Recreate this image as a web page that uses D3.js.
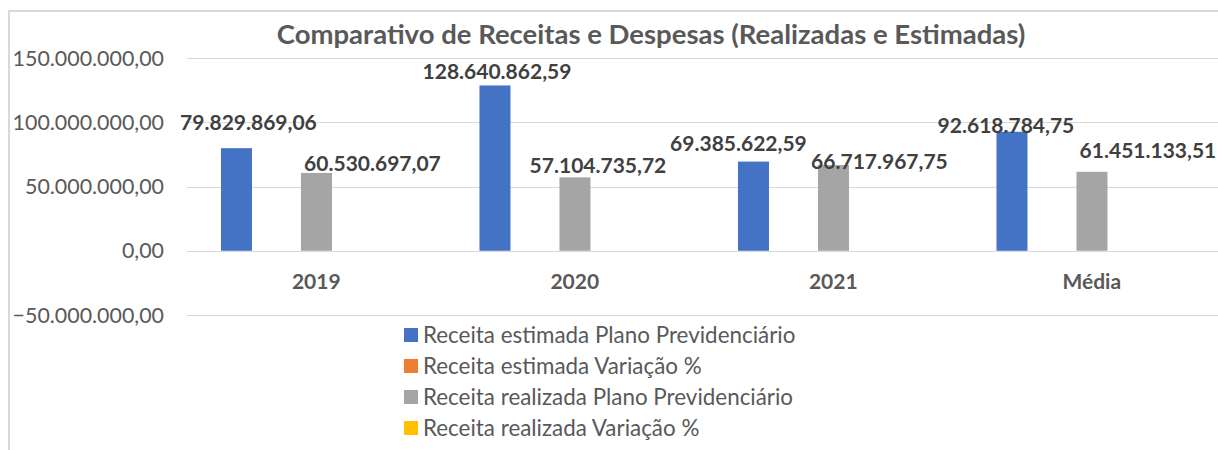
<!DOCTYPE html>
<html>
<head>
<meta charset="utf-8">
<script src="https://cdn.jsdelivr.net/npm/d3@7"></script>
<style>
  body { margin: 0; background: #fff; }
  svg { display: block; font-family: Lato, "Open Sans", sans-serif; }
</style>
</head>
<body>
<div id="chart"></div>
<script>
const title = "Comparativo de Receitas e Despesas (Realizadas e Estimadas)";
const categories = ["2019", "2020", "2021", "Média"];
const seriesNames = [
    "Receita estimada Plano Previdenciário",
    "Receita estimada Variação %",
    "Receita realizada Plano Previdenciário",
    "Receita realizada Variação %"
];
const estimadaPlano = [79829869.06, 128640862.59, 69385622.59, 92618784.75];
const estimadaVar = [0, 0, 0, 0];
const realizadaPlano = [60530697.07, 57104735.72, 66717967.75, 61451133.51];
const realizadaVar = [0, 0, 0, 0];
const yTicks = [-50000000, 0, 50000000, 100000000, 150000000];

const colors = ["#4472C4", "#ED7D31", "#A5A5A5", "#FFC000"];

// hand placed data labels in the original (dx from bar centre, dy from bar top)
const labelNudge = {
    0: [[12, -18], [2, -6], [-15, -11], [-6, 1]],
    2: [[56, -2], [23, -4], [46, 4], [56, -14]]
};

const width = 1218, height = 450;
const values = [estimadaPlano, estimadaVar, realizadaPlano, realizadaVar];

const fmt = v => {
    const s = d3.format(",.2f")(v);
    return s.replace(/,/g, "#").replace(/\./g, ",").replace(/#/g, ".");
};

const svg = d3.select("#chart").append("svg")
    .attr("width", width)
    .attr("height", height);

// chart frame
svg.append("path")
    .attr("d", `M9,${height} V11 H${width}`)
    .attr("fill", "none")
    .attr("stroke", "#d9d9d9")
    .attr("stroke-width", 2);

const x = d3.scaleBand()
    .domain(categories)
    .range([187, 1221]);

const xs = d3.scaleBand()
    .domain(d3.range(seriesNames.length))
    .range([0, x.bandwidth()])
    .paddingInner(0.225)
    .paddingOuter(1.344)
    .align(0.316);

const y = d3.scaleLinear()
    .domain([-50000000, 150000000])
    .range([315, 58]);

// gridlines
svg.append("g")
    .selectAll("line")
    .data(yTicks)
    .enter()
    .append("line")
        .attr("x1", 187)
        .attr("x2", width)
        .attr("y1", d => Math.round(y(d)) + 0.5)
        .attr("y2", d => Math.round(y(d)) + 0.5)
        .attr("stroke", "#d9d9d9")
        .attr("stroke-width", 1.2);

// y axis labels
svg.append("g")
    .selectAll("text")
    .data(yTicks)
    .enter()
    .append("text")
        .attr("x", 164)
        .attr("y", d => y(d))
        .attr("dy", "0.36em")
        .attr("text-anchor", "end")
        .attr("font-size", "21.4px")
        .attr("fill", "#595959")
        .text(d => fmt(d));

// category labels
svg.append("g")
    .selectAll("text")
    .data(categories)
    .enter()
    .append("text")
        .attr("x", d => x(d) + x.bandwidth() / 2)
        .attr("y", 289)
        .attr("text-anchor", "middle")
        .attr("font-size", "21px")
        .attr("font-weight", "bold")
        .attr("fill", "#595959")
        .text(d => d);

// bars
const groups = svg.append("g")
    .selectAll("g")
    .data(values)
    .enter()
    .append("g")
        .attr("fill", (d, i) => colors[i]);

groups.each(function(vals, si) {
    d3.select(this).selectAll("rect")
        .data(vals)
        .enter()
        .append("rect")
            .attr("x", (d, ci) => x(categories[ci]) + xs(si))
            .attr("y", d => y(Math.max(0, d)))
            .attr("width", xs.bandwidth())
            .attr("height", d => Math.abs(y(d) - y(0)));
});

// data labels
[0, 2].forEach(si => {
    svg.append("g")
        .selectAll("text")
        .data(values[si])
        .enter()
        .append("text")
            .attr("x", (d, ci) => x(categories[ci]) + xs(si) + xs.bandwidth() / 2 + labelNudge[si][ci][0])
            .attr("y", (d, ci) => y(d) + labelNudge[si][ci][1])
            .attr("text-anchor", "middle")
            .attr("font-size", "21px")
            .attr("font-weight", "bold")
            .attr("fill", "#404040")
            .text(d => fmt(d));
});

// title
svg.append("text")
    .attr("x", 651)
    .attr("y", 44)
    .attr("text-anchor", "middle")
    .attr("font-size", "27.5px")
    .attr("font-weight", "bold")
    .attr("fill", "#595959")
    .text(title);

// legend
const legend = svg.append("g")
    .selectAll("g")
    .data(seriesNames)
    .enter()
    .append("g")
        .attr("transform", (d, i) => `translate(404, ${335 + i * 31})`);

legend.append("rect")
    .attr("y", -7)
    .attr("width", 14)
    .attr("height", 14)
    .attr("fill", (d, i) => colors[i]);

legend.append("text")
    .attr("x", 19)
    .attr("dy", "0.36em")
    .attr("font-size", "22.4px")
    .attr("fill", "#595959")
    .text(d => d);
</script>
</body>
</html>
